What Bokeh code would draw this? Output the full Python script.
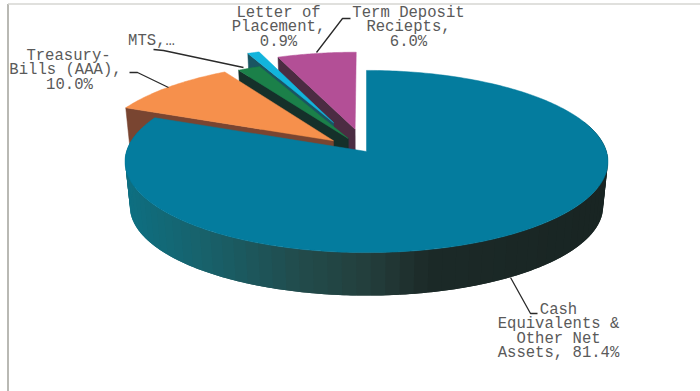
from math import cos, radians, sin

import numpy as np
from bokeh.core.properties import value
from bokeh.embed import file_html
from bokeh.models import Range1d
from bokeh.plotting import figure
from bokeh.resources import INLINE

# Portfolio allocation, clockwise from twelve o'clock
categories = ["Cash Equivalents & Other Net Assets", "Treasury-Bills (AAA)", "MTS",
              "Letter of Placement", "Term Deposit Reciepts"]
shares = [81.4, 10.0, 1.7, 0.9, 6.0]
explode = [0.0, 0.185, 0.165, 0.36, 0.26]
top_colors = ["#047c9e", "#f6904c", "#1b8049", "#12b4dc", "#b34f96"]
cut_colors = ["#0e6e82", "#794531", "#15302a", "#1a5562", "#4b2c42"]

# Pie projection: screen pixels, with a little perspective on the depth axis
CX, CY = 366.0, 151.0
RX, RY = 240.0, 90.0
PERSP = 0.11
DEPTH = 45.0
LOWER_SCALE = 0.98


def project(theta, r=1.0, dx=0.0, dy=0.0, lower=False):
    wx = r * sin(radians(theta)) + dx
    wy = r * cos(radians(theta)) + dy
    s = 1.0 / (1.0 + PERSP * wy)
    k = LOWER_SCALE if lower else 1.0
    return (CX + RX * wx * s * k,
            CY - RY * wy * s * k + (DEPTH if lower else 0.0))


def side_color(x):
    stops_x = [124, 200, 300, 370, 430, 607]
    stops_r = [14, 24, 34, 36, 28, 25]
    stops_g = [112, 98, 76, 62, 42, 37]
    stops_b = [130, 108, 76, 60, 40, 35]
    r = np.interp(x, stops_x, stops_r)
    g = np.interp(x, stops_x, stops_g)
    b = np.interp(x, stops_x, stops_b)
    return "#%02x%02x%02x" % (int(r), int(g), int(b))


p = figure(width=700, height=391, output_backend="svg", toolbar_location=None,
           x_range=Range1d(0, 700), y_range=Range1d(391, 0),
           min_border=0, outline_line_color=None, background_fill_color="white",
           border_fill_color="white")
p.axis.visible = False
p.grid.visible = False

# Slice angular spans from the shares
edges = np.concatenate([[0.0], np.cumsum(shares)]) * 360.0 / sum(shares)

# Frame of the chart area
p.line([7.5, 7.5], [391, 3.5], line_color="#b9b9b4", line_width=2)
p.line([7.5, 700], [3.5, 3.5], line_color="#d6d6d2", line_width=1.5)

# Exploded slices, drawn from the back of the pie forward
for i in [4, 3, 2, 1]:
    a0, a1 = edges[i], edges[i + 1]
    mid = (a0 + a1) / 2
    dx, dy = explode[i] * sin(radians(mid)), explode[i] * cos(radians(mid))

    # Cut face on the counter-clockwise edge
    t0 = project(a0, 1, dx, dy)
    t1 = project(a0, 0, dx, dy)
    b1 = project(a0, 0, dx, dy, lower=True)
    b0 = project(a0, 1, dx, dy, lower=True)
    p.patch([t0[0], t1[0], b1[0], b0[0]], [t0[1], t1[1], b1[1], b0[1]],
            fill_color=cut_colors[i], line_color=cut_colors[i], line_width=0.5)

    # Top face
    thetas = np.linspace(a0, a1, 40)
    pts = [project(t, 1, dx, dy) for t in thetas] + [project(a0, 0, dx, dy)]
    p.patch([q[0] for q in pts], [q[1] for q in pts],
            fill_color=top_colors[i], line_color=top_colors[i], line_width=0.5)

# Rim of the large slice: bands painted right to left, each running under the next
rim = np.linspace(70, 285, 70)
for j in range(len(rim) - 1):
    arc = np.linspace(rim[j], rim[min(j + 2, len(rim) - 1)], 8)
    upper = [project(t) for t in arc]
    lower = [project(t, lower=True) for t in arc[::-1]]
    pts = upper + lower
    col = side_color(project((rim[j] + rim[j + 1]) / 2)[0])
    p.patch([q[0] for q in pts], [q[1] for q in pts],
            fill_color=col, line_color=None)

# Top face of the large slice
thetas = np.linspace(edges[0], edges[1], 300)
pts = [project(t) for t in thetas] + [project(0, 0)]
p.patch([q[0] for q in pts], [q[1] for q in pts],
        fill_color=top_colors[0], line_color=top_colors[0], line_width=0.5)

# Leader lines
leaders = [
    ([537, 530, 510], [313, 313, 277]),
    ([129, 137, 168], [72, 72, 87]),
    ([153, 163, 243], [49, 50, 67]),
    ([350, 342, 316], [18, 18, 52]),
]
for xs, ys in leaders:
    p.line(xs, ys, line_color="#2a2a2a", line_width=1.3)

# Labels
label_lines = [
    (558, 309, "Cash"), (558, 323, "Equivalents &"), (558, 338, "Other Net"),
    (558, 352, "Assets, 81.4%"),
    (68, 55, "Treasury-"), (65, 69, "Bills (AAA),"), (69, 84, "10.0%"),
    (151, 40, "MTS,…"),
    (278, 12, "Letter of"), (278, 26, "Placement,"), (278, 41, "0.9%"),
    (408, 12, "Term Deposit"), (408, 26, "Reciepts,"), (408, 41, "6.0%"),
]
p.text([t[0] for t in label_lines], [t[1] for t in label_lines],
       text=[t[2] for t in label_lines],
       text_font=value("Liberation Mono"), text_font_size="15.6px",
       text_color="#5a5a5a", text_align="center", text_baseline="middle")

open("out.html", "w").write(file_html(p, INLINE))
